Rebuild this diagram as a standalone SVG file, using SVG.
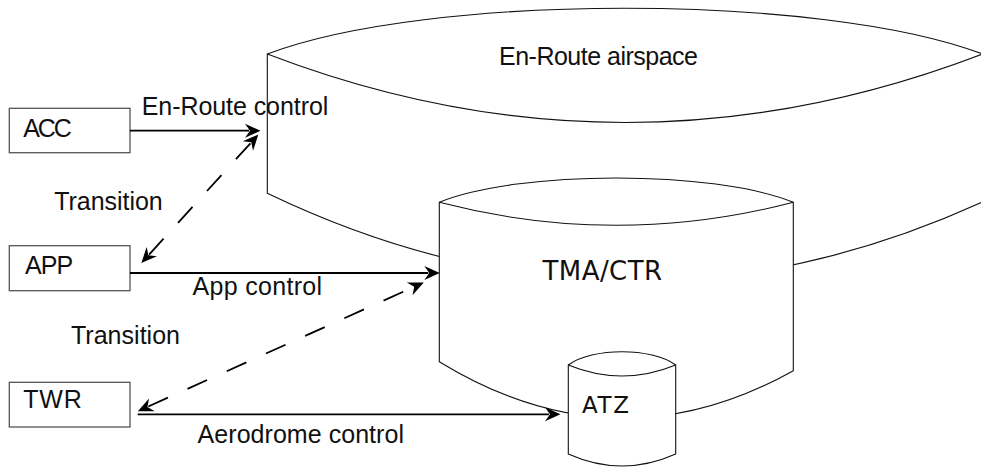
<svg xmlns="http://www.w3.org/2000/svg" width="981" height="468" viewBox="0 0 981 468">
<style>
.shape{fill:#fff;stroke:#111;stroke-width:1.1}
.cap{fill:none;stroke:#111;stroke-width:1.1}
.box{fill:#fff;stroke:#555;stroke-width:1.3}
.lbl{font-family:"Liberation Sans",Arial,sans-serif;font-size:25px;fill:#111}
.zone{font-family:"DejaVu Sans",Verdana,sans-serif;fill:#111}
.conn{fill:none;stroke:#000;stroke-width:1.8}
.dash{stroke-dasharray:21.5 21.5}
</style>
<defs>
<marker id="head" markerUnits="userSpaceOnUse" orient="auto-start-reverse" overflow="visible" markerWidth="1" markerHeight="1" refX="0" refY="0">
<path d="M11.5,0 L-4,-7 L1,0 L-4,7 Z" fill="#000"/>
</marker>
</defs>
<g id="enroute">
<path class="shape" d="M267.3,54 C427.3,-7 822,-7 982.5,54 L982.5,202 Q624.9,365 267.3,193.3 Z"/>
<path class="cap" d="M267.3,54 Q624.9,191 982.5,54"/>
<text class="lbl" x="499" y="65" font-size="24" textLength="199">En-Route airspace</text>
</g>
<g id="tma">
<path class="shape" d="M439.3,202.3 C518.7,169.9 714,169.9 793.3,202.3 L793.3,370.7 Q616.3,470 439.3,361.7 Z"/>
<path class="cap" d="M439.3,202.3 Q616.3,248.3 793.3,202.3"/>
<text class="zone" x="542.5" y="280" font-size="26" textLength="119.6">TMA/CTR</text>
</g>
<g id="atz">
<path class="shape" d="M568.3,365 C592.3,347.3 651.7,347.3 675.7,365 L675.7,454 Q622,478 568.3,454 Z"/>
<path class="cap" d="M568.3,365 Q622,387 675.7,365"/>
<text class="zone" x="582" y="413.3" font-size="23" textLength="47">ATZ</text>
</g>
<g id="acc">
<rect class="box" x="9.3" y="108.3" width="120.7" height="44.4"/>
<text class="lbl" x="23.3" y="136.7" textLength="48.4">ACC</text>
</g>
<g id="app">
<rect class="box" x="9.3" y="245.7" width="120.7" height="45"/>
<text class="lbl" x="25" y="274" textLength="48.3">APP</text>
</g>
<g id="twr">
<rect class="box" x="9.3" y="382.3" width="120.7" height="44.7"/>
<text class="lbl" x="23.3" y="408.3" textLength="58.4">TWR</text>
</g>
<g id="connectors">
<path class="conn" d="M130,130.7 L249,130.7" marker-end="url(#head)"/>
<path class="conn" d="M130,273 L428.3,273" marker-end="url(#head)"/>
<path class="conn" d="M137.7,414.3 L549,414.3" marker-end="url(#head)"/>
<path class="conn dash" d="M149.1,254.6 L250.6,143.1" marker-start="url(#head)" marker-end="url(#head)"/>
<path class="conn dash" d="M148.3,406.5 L413.3,287.2" marker-start="url(#head)" marker-end="url(#head)"/>
<text class="lbl" x="141.7" y="115" textLength="186.6">En-Route control</text>
<text class="lbl" x="54.3" y="210" textLength="108.4">Transition</text>
<text class="lbl" x="192.5" y="295" textLength="129.6">App control</text>
<text class="lbl" x="71" y="344.3" textLength="109">Transition</text>
<text class="lbl" x="197.6" y="442.7" textLength="206.4">Aerodrome control</text>
</g>
</svg>
